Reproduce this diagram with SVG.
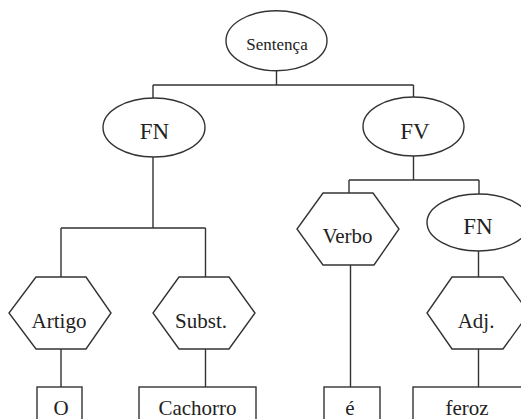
<svg xmlns="http://www.w3.org/2000/svg" width="521" height="419" viewBox="0 0 521 419">
<style>
.s{fill:#fff;stroke:#333;stroke-width:1.4}
.l{fill:none;stroke:#333;stroke-width:1.4}
.t{font-family:'Liberation Serif','Times New Roman','DejaVu Serif',serif;fill:#222;text-anchor:middle;font-size:21px}
.b{font-size:23px}
.sm{font-size:17px}
</style>
<rect width="521" height="419" fill="#fff"/>
<g id="connectors" class="l">
<path d="M276.5 71V85M153 85H413.5M153 85V98M413.5 85V97"/>
<path d="M153 157V228M61 228H205.5M61 228V277M205.5 228V277M61 349V387M205.5 349V387"/>
<path d="M413.5 156V180M349 180H479M349 180V193M479 180V194M350.5 265V387M478.5 251V277M478.5 349V387"/>
</g>
<g id="sentenca"><ellipse class="s" cx="276.5" cy="40.7" rx="50.5" ry="30"/><text class="t sm" x="277" y="50">Sentença</text></g>
<g id="fn1"><ellipse class="s" cx="154" cy="127.5" rx="51" ry="29.5"/><text class="t b" x="154.5" y="139">FN</text></g>
<g id="fv"><ellipse class="s" cx="413.5" cy="126.5" rx="50.5" ry="29.5"/><text class="t b" x="415" y="139">FV</text></g>
<g id="artigo"><polygon class="s" points="36,277 86,277 111,313 86,349 36,349 9,313"/><text class="t" x="59" y="328">Artigo</text></g>
<g id="subst"><polygon class="s" points="179,277 229,277 255,313 229,349 179,349 153,313"/><text class="t" x="201" y="328">Subst.</text></g>
<g id="verbo"><polygon class="s" points="323,193 373,193 399,229 374,265 323,265 297,229"/><text class="t" x="347.5" y="243">Verbo</text></g>
<g id="fn2"><ellipse class="s" cx="478.5" cy="222.5" rx="51.5" ry="28.5"/><text class="t b" x="478" y="234">FN</text></g>
<g id="adj"><polygon class="s" points="452,277 503,277 529,313 503,349 452,349 427,313"/><text class="t" x="476" y="328">Adj.</text></g>
<g id="o"><rect class="s" x="37" y="387" width="45" height="40"/><text class="t" x="61" y="415">O</text></g>
<g id="cachorro"><rect class="s" x="139" y="387" width="117" height="40"/><text class="t" x="197.5" y="415">Cachorro</text></g>
<g id="e"><rect class="s" x="324" y="387" width="56" height="40"/><text class="t" x="350" y="415">é</text></g>
<g id="feroz"><rect class="s" x="413" y="387" width="110" height="40"/><text class="t" x="467" y="415">feroz</text></g>
</svg>
